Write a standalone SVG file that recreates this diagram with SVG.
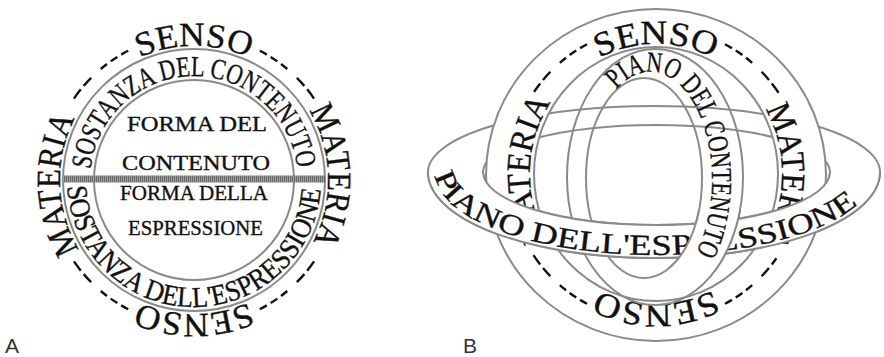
<svg xmlns="http://www.w3.org/2000/svg" width="884" height="357" viewBox="0 0 884 357">
<style>
.ln{fill:none;stroke:#8a8a8a;stroke-width:2}
.t{font-family:"Liberation Serif","Times New Roman",serif;fill:#111;stroke:#111;stroke-width:0.35}
.big{font-size:34px}
.ring{font-size:29px}
.mid{font-size:21px}
.cn{font-size:29px}
.hz{font-size:29px}
.dash{fill:none;stroke:#111;stroke-width:2.4;stroke-dasharray:8 4.5 8 4.5 8 13 11 4.5 11.5 300}
.lab{font-family:"Liberation Sans",Arial,sans-serif;font-size:21px;fill:#333}
.wb{fill:#fff;fill-rule:evenodd;stroke:none}
</style>
<defs>
<pattern id="hatch" patternUnits="userSpaceOnUse" width="2" height="8"><rect width="2" height="8" fill="#a0a0a0"/><rect width="1" height="8" fill="#666"/></pattern>
<path id="aSensoTop" d="M 99.25 85.25 A 134 134 0 0 1 288.75 85.25"/>
<path id="aMatR" d="M 285.4 82 A 134 134 0 0 1 292 271.4"/>
<path id="aSensoBot" d="M 288.75 274.75 A 134 134 0 0 1 99.25 274.75"/>
<path id="aMatL" d="M 102.6 278 A 134 134 0 0 1 96 88.6"/>
<path id="aInTop" d="M 90.6 169.1 A 104 104 0 0 1 297.4 169.1"/>
<path id="aInBot" d="M 67.2 186.6 A 127 127 0 0 0 320.8 187.7"/>
<path id="bSensoTop" d="M 566.9 82.1 A 126 130 0 0 1 745.1 82.1"/>
<path id="bMatR" d="M 746.6 83.7 A 126 130 0 0 1 743.5 267.5"/>
<path id="bSensoBot" d="M 745.1 265.9 A 126 130 0 0 1 566.9 265.9"/>
<path id="bMatL" d="M 563.8 262.7 A 126 130 0 0 1 570.1 78.9"/>
<path id="bCont" d="M 616.2 89.4 A 62 108 0 0 1 693.8 256.4"/>
<path id="bEspr" d="M 435.1 174.9 A 220 83 0 0 0 860.4 201.7"/>
<clipPath id="contClip"><rect x="668" y="210" width="80" height="62"/></clipPath>
</defs>

<g id="diagramA">
  <g id="a-rings">
    <circle class="ln" cx="194" cy="180" r="131"/>
    <circle class="ln" cx="194" cy="180" r="100"/>
    <rect x="63" y="175.5" width="262" height="7" fill="url(#hatch)"/>
  </g>
  <g id="a-outer-text">
    <text class="t big"><textPath href="#aSensoTop" startOffset="50%" text-anchor="middle" textLength="112" lengthAdjust="spacingAndGlyphs">SENSO</textPath></text>
    <text class="t big"><textPath href="#aMatR" startOffset="50%" text-anchor="middle" textLength="137" lengthAdjust="spacingAndGlyphs">MATERIA</textPath></text>
    <text class="t big"><textPath href="#aSensoBot" startOffset="50%" text-anchor="middle" textLength="112" lengthAdjust="spacingAndGlyphs">SENSO</textPath></text>
    <text class="t big"><textPath href="#aMatL" startOffset="50%" text-anchor="middle" textLength="137" lengthAdjust="spacingAndGlyphs">MATERIA</textPath></text>
  </g>
  <g id="a-dashes">
    <path class="dash" d="M 259.8 50.8 A 145 145 0 0 1 314.2 98.9"/>
    <path class="dash" d="M 259.8 309.2 A 145 145 0 0 0 319.6 252.5"/>
    <path class="dash" d="M 128.2 309.2 A 145 145 0 0 1 73.8 261.1"/>
    <path class="dash" d="M 128.2 50.8 A 145 145 0 0 0 68.4 107.5"/>
  </g>
  <g id="a-substance">
    <text class="t ring"><textPath href="#aInTop" textLength="303" lengthAdjust="spacingAndGlyphs">SOSTANZA DEL CONTENUTO</textPath></text>
    <text class="t ring"><textPath href="#aInBot" textLength="383" lengthAdjust="spacingAndGlyphs">SOSTANZA DELL'ESPRESSIONE</textPath></text>
  </g>
  <g id="a-form">
    <text class="t mid" x="127" y="131" textLength="140" lengthAdjust="spacingAndGlyphs">FORMA DEL</text>
    <text class="t mid" x="122" y="170" textLength="148" lengthAdjust="spacingAndGlyphs">CONTENUTO</text>
    <text class="t mid" x="120" y="200" textLength="148" lengthAdjust="spacingAndGlyphs">FORMA DELLA</text>
    <text class="t mid" x="128" y="235" textLength="135" lengthAdjust="spacingAndGlyphs">ESPRESSIONE</text>
  </g>
  <text class="lab" x="5" y="353">A</text>
</g>

<g id="diagramB">
  <g id="b-expression-back">
    <path class="ln" d="M 428 172 A 226 66 0 0 1 880 172 A 226 86 0 0 1 428 172 Z"/>
    <path class="ln" d="M 483 172 A 173.5 47 0 0 1 830 172 A 173.5 53 0 0 1 483 172 Z"/>
  </g>
  <g id="b-senso-ring">
    <path class="wb" d="M 486 175 A 170 166 0 1 1 826 175 A 170 166 0 1 1 486 175 Z M 534 174 A 122 127 0 1 0 778 174 A 122 127 0 1 0 534 174 Z"/>
    <ellipse class="ln" cx="656" cy="175" rx="170" ry="166"/>
    <ellipse class="ln" cx="656" cy="174" rx="122" ry="127"/>
    <text class="t big"><textPath href="#bSensoTop" startOffset="50%" text-anchor="middle" textLength="118" lengthAdjust="spacingAndGlyphs">SENSO</textPath></text>
    <text class="t big"><textPath href="#bMatR" startOffset="50%" text-anchor="middle" textLength="140" lengthAdjust="spacingAndGlyphs">MATERIA</textPath></text>
    <text class="t big"><textPath href="#bSensoBot" startOffset="50%" text-anchor="middle" textLength="118" lengthAdjust="spacingAndGlyphs">SENSO</textPath></text>
    <text class="t big"><textPath href="#bMatL" startOffset="50%" text-anchor="middle" textLength="142" lengthAdjust="spacingAndGlyphs">MATERIA</textPath></text>
    <path class="dash" d="M 725 44.2 A 147 147 0 0 1 779.3 93.9"/>
    <path class="dash" d="M 725 303.8 A 147 147 0 0 0 776.4 258.3"/>
    <path class="dash" d="M 587 303.8 A 147 147 0 0 1 531.3 251.9"/>
    <path class="dash" d="M 587 44.2 A 147 147 0 0 0 534.1 91.8"/>
  </g>
  <g id="b-content-ring">
    <ellipse class="ln" cx="655" cy="177" rx="88" ry="128"/>
    <ellipse class="ln" cx="644" cy="178" rx="58" ry="100"/>
    <text class="t cn"><textPath href="#bCont" textLength="250" lengthAdjust="spacingAndGlyphs">PIANO DEL CONTENUTO</textPath></text>
  </g>
  <g id="b-expression-front">
    <path class="wb" d="M 428 172 A 226 86 0 0 0 880 172 L 830 172 A 173.5 53 0 0 1 483 172 Z"/>
    <path class="ln" d="M 428 172 A 226 86 0 0 0 880 172"/>
    <path class="ln" d="M 483 172 A 173.5 53 0 0 0 830 172"/>
    <text class="t hz"><textPath href="#bEspr" textLength="460" lengthAdjust="spacingAndGlyphs">PIANO DELL'ESPRESSIONE</textPath></text>
  </g>
  <g id="b-content-front" clip-path="url(#contClip)">
    <path class="wb" d="M 567 177 A 88 128 0 1 1 743 177 A 88 128 0 1 1 567 177 Z M 586 178 A 58 100 0 1 0 702 178 A 58 100 0 1 0 586 178 Z"/>
    <ellipse class="ln" cx="655" cy="177" rx="88" ry="128"/>
    <ellipse class="ln" cx="644" cy="178" rx="58" ry="100"/>
    <text class="t cn"><textPath href="#bCont" textLength="250" lengthAdjust="spacingAndGlyphs">PIANO DEL CONTENUTO</textPath></text>
  </g>
  <text class="lab" x="463" y="353">B</text>
</g>
</svg>
